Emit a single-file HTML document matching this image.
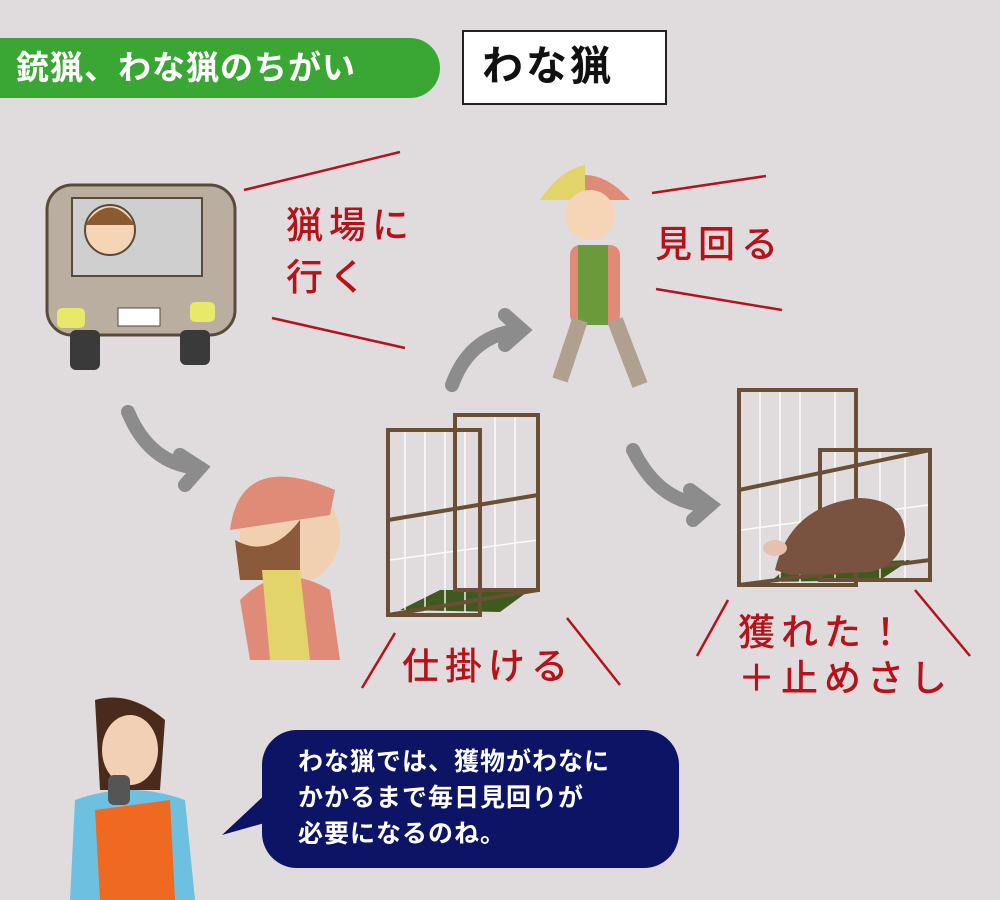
<!DOCTYPE html>
<html><head><meta charset="utf-8"><style>
html,body{margin:0;padding:0}
body{width:1000px;height:900px;background:#e0dbdd;position:relative;overflow:hidden;font-family:"Liberation Sans","Noto Sans CJK JP",sans-serif}
.t{position:absolute;white-space:nowrap}
.r{color:#b5121b;font-size:37px;letter-spacing:6px;font-weight:500}
</style></head><body>
<div style="position:absolute;left:0;top:38px;width:440px;height:60px;background:#3aa735;border-radius:0 30px 30px 0"></div>
<div class="t" style="left:16px;top:45px;font-size:33px;color:#fff;font-weight:bold;line-height:46px;letter-spacing:1px">銃猟、わな猟のちがい</div>
<div style="position:absolute;left:462px;top:30px;width:201px;height:71px;background:#fff;border:2px solid #222"></div>
<div class="t" style="left:482px;top:40px;font-size:41px;color:#111;line-height:52px;font-weight:bold;letter-spacing:3px">わな猟</div>

<div class="t r" style="left:286px;top:200px;line-height:52px">猟場に<br>行く</div>
<div class="t r" style="left:655px;top:220px;line-height:50px">見回る</div>
<div class="t r" style="left:402px;top:642px;line-height:50px">仕掛ける</div>
<div class="t r" style="left:738px;top:610px;line-height:46px">獲れた！<br>＋止めさし</div>

<svg width="1000" height="900" style="position:absolute;left:0;top:0">
<g stroke="#b5121b" stroke-width="2.5">
<line x1="244" y1="190" x2="400" y2="152"/><line x1="272" y1="318" x2="405" y2="348"/>
<line x1="652" y1="193" x2="766" y2="176"/><line x1="656" y1="289" x2="782" y2="310"/>
<line x1="362" y1="688" x2="395" y2="633"/><line x1="567" y1="618" x2="620" y2="685"/>
<line x1="697" y1="656" x2="728" y2="600"/><line x1="915" y1="590" x2="970" y2="656"/>
</g>
<g stroke="#8c8c8c" stroke-width="14" fill="none" stroke-linecap="round">
<path d="M128 412 Q150 465 200 468"/><path d="M180 455 L200 468 L185 485"/>
<path d="M452 385 Q470 335 520 330"/><path d="M505 315 L522 330 L505 345"/>
<path d="M633 450 Q660 505 710 505"/><path d="M690 490 L710 505 L693 520"/>
</g>
<!-- car -->
<rect x="47" y="185" width="188" height="150" rx="25" fill="#b9aea0" stroke="#5a4a3a" stroke-width="3"/>
<rect x="72" y="198" width="130" height="78" fill="#cfcfcf" stroke="#5a4a3a" stroke-width="2"/>
<circle cx="110" cy="230" r="25" fill="#f5d5b5" stroke="#5a4a3a" stroke-width="2"/>
<path d="M85 225 Q110 190 135 225Z" fill="#8a5a30"/>
<rect x="57" y="308" width="28" height="20" rx="5" fill="#e8e86a"/><rect x="190" y="302" width="25" height="20" rx="5" fill="#e8e86a"/>
<rect x="118" y="308" width="42" height="18" fill="#fff" stroke="#5a4a3a"/>
<rect x="70" y="330" width="30" height="40" rx="6" fill="#3a3a3a"/><rect x="180" y="330" width="30" height="35" rx="6" fill="#3a3a3a"/>
<!-- walking person -->
<path d="M540 200 Q585 150 630 200Z" fill="#e08a78"/><path d="M540 200 Q560 170 585 165 L585 200Z" fill="#e2d36a"/>
<circle cx="590" cy="215" r="25" fill="#f5d5b5"/>
<rect x="570" y="245" width="50" height="80" rx="10" fill="#e08a78"/>
<rect x="578" y="245" width="30" height="80" fill="#6a9a3a"/>
<path d="M580 320 L560 380 M615 320 L640 385" stroke="#b0a090" stroke-width="16"/>
<!-- person back -->
<circle cx="290" cy="535" r="50" fill="#f0d0b0"/>
<path d="M230 530 Q240 450 335 490 L330 515Z" fill="#e08a78"/>
<path d="M235 540 Q270 560 300 520 L300 580 L240 580Z" fill="#8a5a3a"/>
<path d="M240 600 Q280 560 330 590 L340 660 L250 660Z" fill="#e08a78"/>
<path d="M262 570 L300 570 L310 660 L270 660Z" fill="#e2d36a"/>
<!-- cages -->
<path d="M400 610 L440 590 L530 590 L500 612Z" fill="#3f5a1e"/>
<path d="M770 582 L790 565 L910 560 L880 580Z" fill="#3f5a1e"/>
<g stroke="#ffffff" stroke-width="1.5" opacity="0.9">
<line x1="405" y1="432" x2="405" y2="612"/><line x1="425" y1="432" x2="425" y2="612"/><line x1="445" y1="432" x2="445" y2="612"/><line x1="465" y1="432" x2="465" y2="612"/>
<line x1="495" y1="417" x2="495" y2="590"/><line x1="515" y1="417" x2="515" y2="590"/>
<line x1="390" y1="560" x2="538" y2="540"/>
<line x1="760" y1="392" x2="760" y2="583"/><line x1="780" y1="392" x2="780" y2="583"/><line x1="800" y1="392" x2="800" y2="583"/><line x1="835" y1="392" x2="835" y2="583"/>
<line x1="880" y1="452" x2="880" y2="578"/><line x1="905" y1="452" x2="905" y2="578"/>
<line x1="741" y1="530" x2="928" y2="505"/>
</g>
<g fill="none" stroke="#6b4f35" stroke-width="4">
<rect x="388" y="430" width="92" height="185"/><rect x="455" y="415" width="83" height="175"/>
<line x1="388" y1="520" x2="538" y2="495"/><line x1="388" y1="615" x2="538" y2="590"/>
<rect x="739" y="390" width="117" height="195"/><rect x="820" y="450" width="110" height="130"/>
<line x1="739" y1="490" x2="930" y2="450"/><line x1="739" y1="585" x2="930" y2="560"/>
</g>
<path d="M775 570 Q790 505 860 498 Q905 500 905 535 Q900 565 870 572 L790 575Z" fill="#7a5240"/>
<ellipse cx="775" cy="548" rx="12" ry="8" fill="#e8c0b0"/>
<!-- woman -->
<path d="M95 700 Q130 690 165 720 L160 790 L100 790Z" fill="#4a2a1a"/>
<ellipse cx="130" cy="750" rx="28" ry="35" fill="#f2d0b5"/>
<path d="M75 800 Q130 780 185 800 L195 900 L70 900Z" fill="#6ec0e0"/>
<path d="M95 810 L170 800 L175 900 L100 900Z" fill="#ef6a20"/>
<rect x="108" y="775" width="22" height="30" rx="6" fill="#555"/>
<!-- bubble -->
<rect x="262" y="730" width="417" height="138" rx="35" fill="#0d1466"/>
<path d="M270 790 L222 835 L275 820Z" fill="#0d1466"/>
</svg>
<div class="t" style="left:298px;top:744px;font-size:25px;color:#fff;line-height:36px;font-weight:bold;letter-spacing:1px">わな猟では、獲物がわなに<br>かかるまで毎日見回りが<br>必要になるのね。</div>
</body></html>
